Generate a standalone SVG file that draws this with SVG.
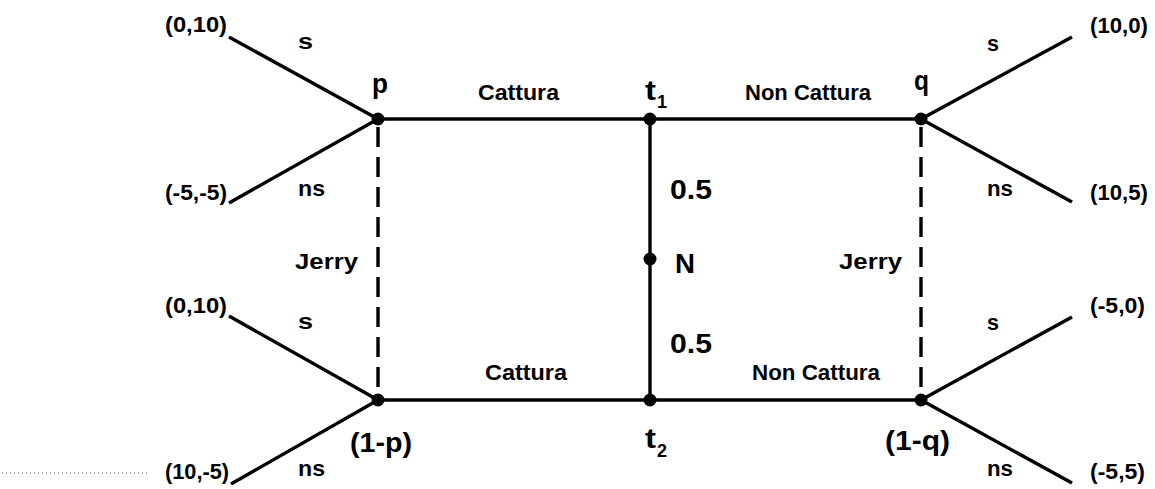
<svg xmlns="http://www.w3.org/2000/svg" width="1155" height="489" viewBox="0 0 1155 489">
  <style>
    .edge { stroke: #000; stroke-width: 3.4; fill: none; stroke-linecap: butt; }
    .info { stroke: #000; stroke-width: 3.4; fill: none; stroke-dasharray: 20 10; }
    .guide { stroke: #555; stroke-width: 1; fill: none; stroke-dasharray: 1 3; }
    .dot { fill: #000; }
    text { font-family: "Liberation Sans", Arial, sans-serif; font-weight: bold; fill: #000; }
    .sm { font-size: 22.5px; }
    .lg { font-size: 28px; }
    .sub { font-size: 18px; }
  </style>
  <rect width="1155" height="489" fill="#fff"/>

  <!-- connectors -->
  <g id="connectors">
    <line class="edge" x1="378" y1="119" x2="921" y2="119"/>
    <line class="edge" x1="378" y1="400" x2="921" y2="400"/>
    <line class="edge" x1="650" y1="119" x2="650" y2="400"/>
    <line class="edge" x1="378" y1="119" x2="229" y2="37"/>
    <line class="edge" x1="378" y1="119" x2="229" y2="203"/>
    <line class="edge" x1="921" y1="119" x2="1072" y2="37"/>
    <line class="edge" x1="921" y1="119" x2="1072" y2="202"/>
    <line class="edge" x1="378" y1="400" x2="229" y2="316"/>
    <line class="edge" x1="378" y1="400" x2="231" y2="484"/>
    <line class="edge" x1="921" y1="400" x2="1072" y2="317"/>
    <line class="edge" x1="921" y1="400" x2="1072" y2="483"/>
    <line class="info" x1="378" y1="127" x2="378" y2="400"/>
    <line class="info" x1="921" y1="127" x2="921" y2="400"/>
    <line class="guide" x1="2" y1="473" x2="148" y2="473"/>
  </g>

  <!-- Jerry, top decision node -->
  <g id="node-p">
    <circle class="dot" cx="378" cy="119" r="6.5"/>
    <text class="lg" x="372" y="93" textLength="16" lengthAdjust="spacingAndGlyphs">p</text>
    <text class="sm" x="298" y="49" textLength="15" lengthAdjust="spacingAndGlyphs">s</text>
    <text class="sm" x="298" y="196" textLength="27" lengthAdjust="spacingAndGlyphs">ns</text>
    <text class="sm" x="165" y="32" textLength="62" lengthAdjust="spacingAndGlyphs">(0,10)</text>
    <text class="sm" x="165" y="200" textLength="62" lengthAdjust="spacingAndGlyphs">(-5,-5)</text>
  </g>

  <!-- Jerry, bottom decision node -->
  <g id="node-1-p">
    <circle class="dot" cx="378" cy="400" r="6.5"/>
    <text class="lg" x="350" y="452" textLength="62" lengthAdjust="spacingAndGlyphs">(1-p)</text>
    <text class="sm" x="298" y="329" textLength="15" lengthAdjust="spacingAndGlyphs">s</text>
    <text class="sm" x="298" y="476" textLength="27" lengthAdjust="spacingAndGlyphs">ns</text>
    <text class="sm" x="165" y="313" textLength="62" lengthAdjust="spacingAndGlyphs">(0,10)</text>
    <text class="sm" x="165" y="479" textLength="64" lengthAdjust="spacingAndGlyphs">(10,-5)</text>
  </g>

  <!-- Tom, type t1 -->
  <g id="node-t1">
    <circle class="dot" cx="650" cy="119" r="6.5"/>
    <text class="lg" x="645" y="100" textLength="11" lengthAdjust="spacingAndGlyphs">t</text>
    <text class="sub" x="657" y="108" textLength="10" lengthAdjust="spacingAndGlyphs">1</text>
    <text class="sm" x="478" y="100" textLength="81" lengthAdjust="spacingAndGlyphs">Cattura</text>
    <text class="sm" x="745" y="100" textLength="126" lengthAdjust="spacingAndGlyphs">Non Cattura</text>
  </g>

  <!-- Nature -->
  <g id="node-N">
    <circle class="dot" cx="650" cy="259" r="6.5"/>
    <text class="lg" x="675" y="273" textLength="20" lengthAdjust="spacingAndGlyphs">N</text>
    <text class="lg" x="670" y="199" textLength="42" lengthAdjust="spacingAndGlyphs">0.5</text>
    <text class="lg" x="670" y="353" textLength="42" lengthAdjust="spacingAndGlyphs">0.5</text>
  </g>

  <!-- Tom, type t2 -->
  <g id="node-t2">
    <circle class="dot" cx="650" cy="400" r="6.5"/>
    <text class="lg" x="645" y="448" textLength="11" lengthAdjust="spacingAndGlyphs">t</text>
    <text class="sub" x="657" y="457" textLength="10" lengthAdjust="spacingAndGlyphs">2</text>
    <text class="sm" x="485" y="380" textLength="82" lengthAdjust="spacingAndGlyphs">Cattura</text>
    <text class="sm" x="752" y="380" textLength="128" lengthAdjust="spacingAndGlyphs">Non Cattura</text>
  </g>

  <!-- Jerry, top-right decision node -->
  <g id="node-q">
    <circle class="dot" cx="921" cy="119" r="6.5"/>
    <text class="lg" x="914" y="90" textLength="15" lengthAdjust="spacingAndGlyphs">q</text>
    <text class="sm" x="987" y="51" textLength="12" lengthAdjust="spacingAndGlyphs">s</text>
    <text class="sm" x="987" y="196" textLength="26" lengthAdjust="spacingAndGlyphs">ns</text>
    <text class="sm" x="1090" y="33" textLength="58" lengthAdjust="spacingAndGlyphs">(10,0)</text>
    <text class="sm" x="1090" y="200" textLength="58" lengthAdjust="spacingAndGlyphs">(10,5)</text>
  </g>

  <!-- Jerry, bottom-right decision node -->
  <g id="node-1-q">
    <circle class="dot" cx="921" cy="400" r="6.5"/>
    <text class="lg" x="885" y="450" textLength="65" lengthAdjust="spacingAndGlyphs">(1-q)</text>
    <text class="sm" x="987" y="330" textLength="12" lengthAdjust="spacingAndGlyphs">s</text>
    <text class="sm" x="987" y="476" textLength="26" lengthAdjust="spacingAndGlyphs">ns</text>
    <text class="sm" x="1090" y="313" textLength="55" lengthAdjust="spacingAndGlyphs">(-5,0)</text>
    <text class="sm" x="1090" y="479" textLength="55" lengthAdjust="spacingAndGlyphs">(-5,5)</text>
  </g>

  <!-- information sets -->
  <g id="info-left">
    <text class="sm" x="295" y="269" textLength="63" lengthAdjust="spacingAndGlyphs">Jerry</text>
  </g>
  <g id="info-right">
    <text class="sm" x="839" y="269" textLength="63" lengthAdjust="spacingAndGlyphs">Jerry</text>
  </g>
</svg>
